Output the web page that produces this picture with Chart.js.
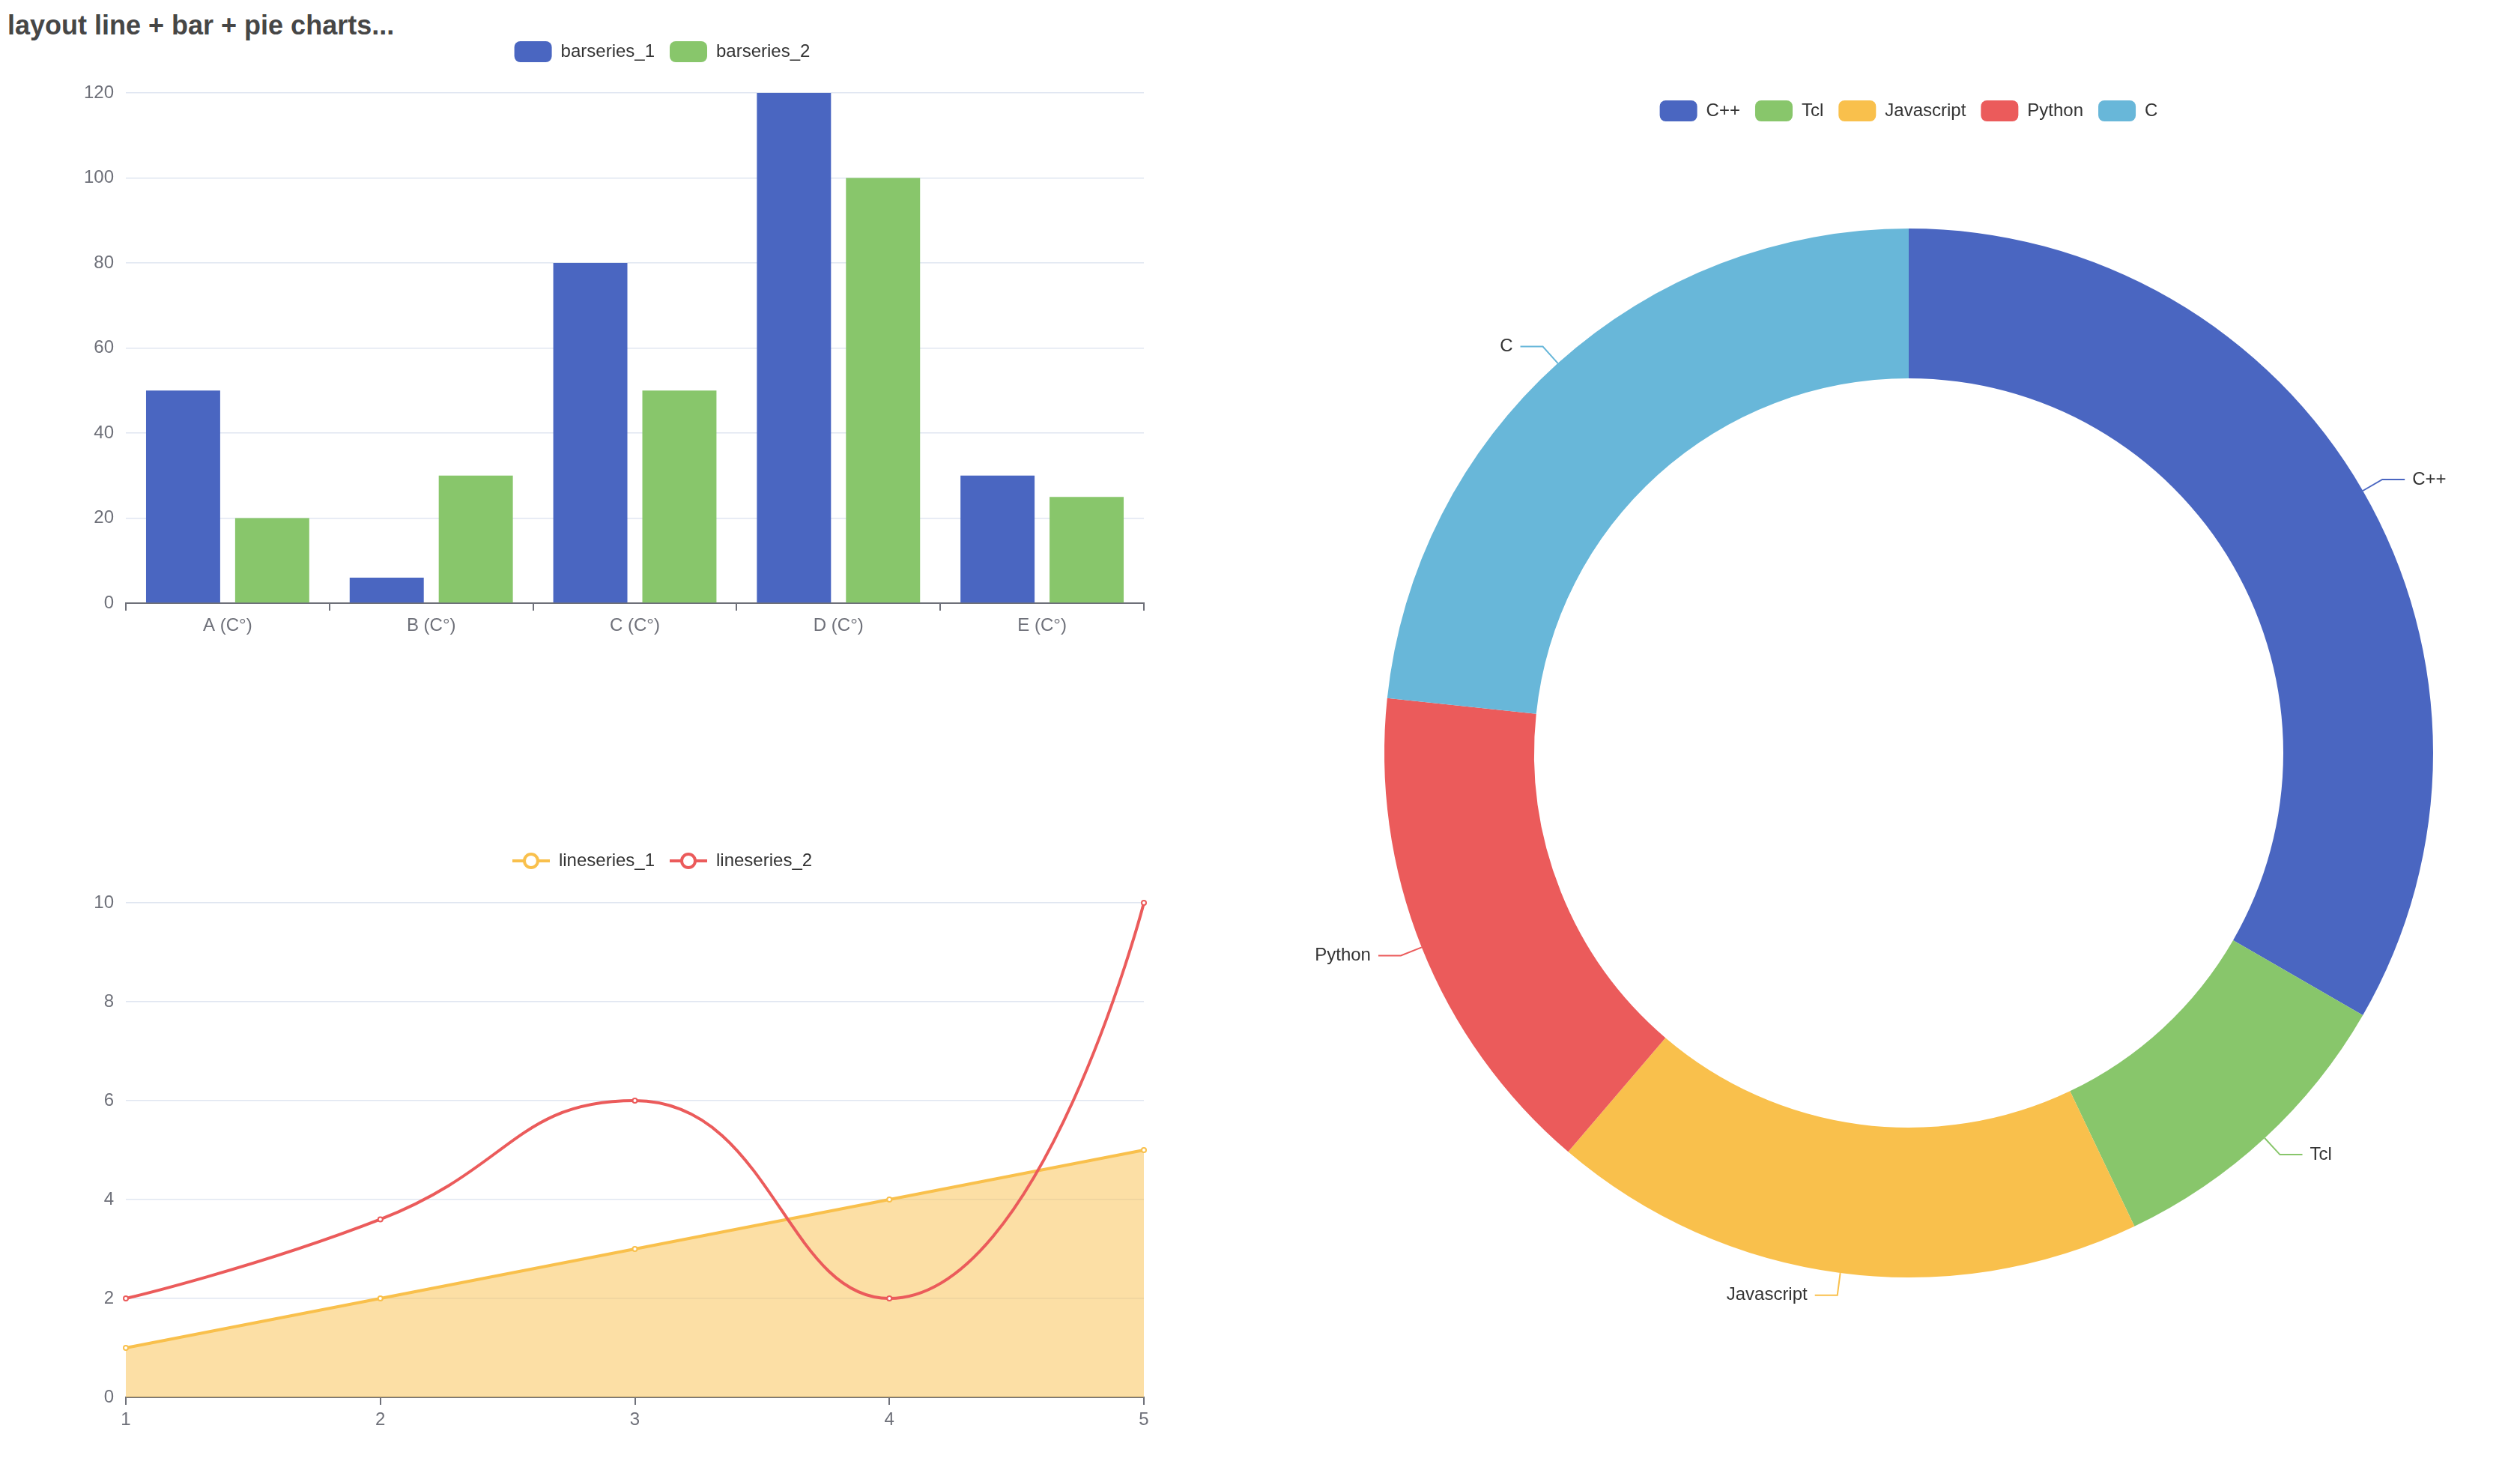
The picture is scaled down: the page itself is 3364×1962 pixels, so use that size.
<!DOCTYPE html>
<html>
<head>
<meta charset="utf-8">
<script src="https://cdn.jsdelivr.net/npm/chart.js@4.4.1/dist/chart.umd.min.js"></script>
<style>
html, body { margin: 0; padding: 0; background: #fff; overflow: hidden; width: 3364px; height: 1962px; }
.box { position: absolute; }
#title { position: absolute; left: 10px; top: 16px; font: bold 36px 'Liberation Sans', Arial, Helvetica, sans-serif; line-height: 36px; color: #464646; white-space: nowrap; }
</style>
</head>
<body>
<div id="title">layout line + bar + pie charts...</div>
<div class="box" style="left:0;top:0;width:1768px;height:865px"><canvas id="bar"></canvas></div>
<div class="box" style="left:0;top:1101px;width:1768px;height:824px"><canvas id="line"></canvas></div>
<div class="box" style="left:1700px;top:0;width:1696px;height:1800px"><canvas id="pie"></canvas></div>
<script>
// ---------- data ----------
const barCategories = ['A (C°)', 'B (C°)', 'C (C°)', 'D (C°)', 'E (C°)'];
const barSeries1 = [50, 6, 80, 120, 30];
const barSeries2 = [20, 30, 50, 100, 25];
const barNames = ['barseries_1', 'barseries_2'];

const lineCategories = ['1', '2', '3', '4', '5'];
const lineSeries1 = [1, 2, 3, 4, 5];
const lineSeries2 = [2, 3.6, 6, 2, 10];
const lineNames = ['lineseries_1', 'lineseries_2'];

const pieLabels = ['C++', 'Tcl', 'Javascript', 'Python', 'C'];
const pieValues = [40, 11.5, 22, 18.5, 28];

// ---------- styles ----------
const BLUE = '#4a66c1', GREEN = '#88c66b', YELLOW = '#f9c04c', RED = '#eb5b5b', LIGHTBLUE = '#68b7d9';
const pieColors = [BLUE, GREEN, YELLOW, RED, LIGHTBLUE];
const AXIS = '#6E7079', GRID = '#E0E6F1', TEXT = '#333333';
const FONT = "'Liberation Sans', Arial, Helvetica, sans-serif";

Chart.defaults.font.family = FONT;
Chart.defaults.font.size = 24;
Chart.defaults.color = AXIS;
Chart.defaults.animation = false;

function spacer(h) {
  return { display: true, text: '', position: 'top', weight: 500, font: { size: 10, lineHeight: 1 }, padding: { top: h - 10, bottom: 0 } };
}
function dummyRight(w) {
  return { position: 'right', display: true, ticks: { display: false }, grid: { display: false, drawTicks: false }, border: { display: false }, afterFit: s => { s.width = w; } };
}
function catAxis(offset) {
  return {
    type: 'category', offset: offset,
    grid: { offset: offset, drawOnChartArea: false, drawTicks: true, tickLength: 10, tickColor: AXIS, tickWidth: 2, color: AXIS, lineWidth: 2 },
    border: { display: true, color: AXIS, width: 2 },
    ticks: { color: AXIS, padding: 6, maxRotation: 0, autoSkip: false },
    afterFit: s => { s.height = 60; }
  };
}
function valAxis(max, step) {
  return {
    min: 0, max: max,
    ticks: { stepSize: step, color: AXIS, padding: 16 },
    grid: { color: GRID, lineWidth: 1.5, drawTicks: false },
    border: { display: false },
    afterFit: s => { s.width = 168; }
  };
}

// ---------- bar chart ----------
new Chart(document.getElementById('bar'), {
  type: 'bar',
  data: {
    labels: barCategories,
    datasets: [
      { label: barNames[0], data: barSeries1, backgroundColor: BLUE, borderWidth: 0, barPercentage: 0.832, categoryPercentage: 0.875 },
      { label: barNames[1], data: barSeries2, backgroundColor: GREEN, borderWidth: 0, barPercentage: 0.832, categoryPercentage: 0.875 }
    ]
  },
  options: {
    responsive: true, maintainAspectRatio: false, devicePixelRatio: 1, events: [],
    layout: { padding: { top: 35, left: 0, right: 0, bottom: 0 } },
    plugins: {
      legend: { labels: { boxWidth: 50, boxHeight: 28, padding: 20, useBorderRadius: true, borderRadius: 8, color: TEXT } },
      subtitle: spacer(31),
      tooltip: { enabled: false }
    },
    scales: { x: catAxis(true), y: valAxis(120, 20), y2: dummyRight(241) }
  }
});

// ---------- line chart ----------
function lineIcon(color) {
  const c = document.createElement('canvas');
  c.width = 50; c.height = 28;
  const g = c.getContext('2d');
  g.strokeStyle = color; g.lineWidth = 4;
  g.beginPath(); g.moveTo(0, 14); g.lineTo(50, 14); g.stroke();
  g.beginPath(); g.arc(25, 14, 9, 0, Math.PI * 2); g.fillStyle = '#fff'; g.fill(); g.stroke();
  return c;
}
const lineIcons = [lineIcon(YELLOW), lineIcon(RED)];

// ECharts-style smoothing of control points (computed from the library's point positions)
function ecSmooth(pts, smooth) {
  const n = pts.length;
  for (let i = 0; i < n; i++) {
    const p = pts[i];
    if (i === 0 || i === n - 1) { p.cp1x = p.x; p.cp1y = p.y; p.cp2x = p.x; p.cp2y = p.y; continue; }
    const prev = pts[i - 1], next = pts[i + 1];
    const x = p.x, y = p.y;
    let vx = next.x - prev.x, vy = next.y - prev.y;
    const lp = Math.hypot(x - prev.x, y - prev.y), ln = Math.hypot(next.x - x, next.y - y);
    const r = ln / (ln + lp);
    let nx = x + vx * smooth * r, ny = y + vy * smooth * r;
    nx = Math.min(nx, Math.max(next.x, x)); ny = Math.min(ny, Math.max(next.y, y));
    nx = Math.max(nx, Math.min(next.x, x)); ny = Math.max(ny, Math.min(next.y, y));
    vx = nx - x; vy = ny - y;
    let cx = x - vx * lp / ln, cy = y - vy * lp / ln;
    cx = Math.min(cx, Math.max(prev.x, x)); cy = Math.min(cy, Math.max(prev.y, y));
    cx = Math.max(cx, Math.min(prev.x, x)); cy = Math.max(cy, Math.min(prev.y, y));
    vx = x - cx; vy = y - cy;
    nx = x + vx * ln / lp; ny = y + vy * ln / lp;
    p.cp1x = cx; p.cp1y = cy; p.cp2x = nx; p.cp2y = ny;
  }
}
const ecSmoothPlugin = {
  id: 'ecSmooth',
  beforeDatasetsDraw(chart) {
    chart.data.datasets.forEach((ds, di) => {
      if (!ds.ecSmooth) return;
      const meta = chart.getDatasetMeta(di);
      meta.dataset.updateControlPoints(chart.chartArea, meta.iScale.axis);
      ecSmooth(meta.data, 0.5);
      meta.dataset._path = undefined;
    });
  }
};

new Chart(document.getElementById('line'), {
  type: 'line',
  data: {
    labels: lineCategories,
    datasets: [
      { label: lineNames[0], data: lineSeries1, order: 1, borderColor: YELLOW, borderWidth: 4, tension: 0,
        fill: 'origin', backgroundColor: 'rgba(249,192,76,0.5)', clip: false,
        pointRadius: 3, pointBorderWidth: 2, pointBackgroundColor: '#fff', pointBorderColor: YELLOW },
      { label: lineNames[1], data: lineSeries2, order: 0, borderColor: RED, borderWidth: 4, tension: 0.5, ecSmooth: true,
        fill: false, backgroundColor: RED, clip: false,
        pointRadius: 3, pointBorderWidth: 2, pointBackgroundColor: '#fff', pointBorderColor: RED }
    ]
  },
  options: {
    responsive: true, maintainAspectRatio: false, devicePixelRatio: 1, events: [],
    layout: { padding: { top: 16, left: 0, right: 0, bottom: 0 } },
    plugins: {
      legend: { labels: {
        usePointStyle: true, pointStyleWidth: 50, padding: 20, color: TEXT,
        sort: (a, b) => a.datasetIndex - b.datasetIndex,
        generateLabels(chart) {
          const items = Chart.defaults.plugins.legend.labels.generateLabels(chart);
          items.forEach(it => { it.pointStyle = lineIcons[it.datasetIndex]; });
          return items;
        }
      } },
      subtitle: spacer(34),
      tooltip: { enabled: false }
    },
    scales: { x: catAxis(false), y: valAxis(10, 2), y2: dummyRight(241) }
  },
  plugins: [ecSmoothPlugin]
});

// ---------- doughnut chart ----------
const pieLabelPlugin = {
  id: 'pieLabels',
  afterDatasetsDraw(chart) {
    const meta = chart.getDatasetMeta(0);
    const ctx = chart.ctx;
    ctx.save();
    meta.data.forEach((arc, i) => {
      const p = arc.getProps(['x', 'y', 'startAngle', 'endAngle', 'outerRadius'], true);
      const mid = (p.startAngle + p.endAngle) / 2;
      const c = Math.cos(mid), s = Math.sin(mid);
      const x0 = p.x + c * p.outerRadius, y0 = p.y + s * p.outerRadius;
      const x1 = p.x + c * (p.outerRadius + 30), y1 = p.y + s * (p.outerRadius + 30);
      const dir = c >= 0 ? 1 : -1;
      const x2 = x1 + dir * 30;
      ctx.strokeStyle = pieColors[i];
      ctx.lineWidth = 2;
      ctx.beginPath(); ctx.moveTo(x0, y0); ctx.lineTo(x1, y1); ctx.lineTo(x2, y1); ctx.stroke();
      ctx.fillStyle = TEXT;
      ctx.font = '24px ' + FONT;
      ctx.textAlign = dir > 0 ? 'left' : 'right';
      ctx.textBaseline = 'middle';
      ctx.fillText(chart.data.labels[i], x2 + dir * 10, y1);
    });
    ctx.restore();
  }
};

new Chart(document.getElementById('pie'), {
  type: 'doughnut',
  data: {
    labels: pieLabels,
    datasets: [{ data: pieValues, backgroundColor: pieColors, borderWidth: 0, hoverBorderWidth: 0, hoverOffset: 0, offset: 0 }]
  },
  options: {
    responsive: true, maintainAspectRatio: false, devicePixelRatio: 1, events: [],
    cutout: '71.43%',
    layout: { padding: { top: 114, left: 148, right: 148, bottom: 95 } },
    plugins: {
      legend: { labels: { boxWidth: 50, boxHeight: 28, padding: 20, useBorderRadius: true, borderRadius: 8, color: TEXT } },
      subtitle: spacer(133),
      tooltip: { enabled: false }
    }
  },
  plugins: [pieLabelPlugin]
});
</script>
</body>
</html>
